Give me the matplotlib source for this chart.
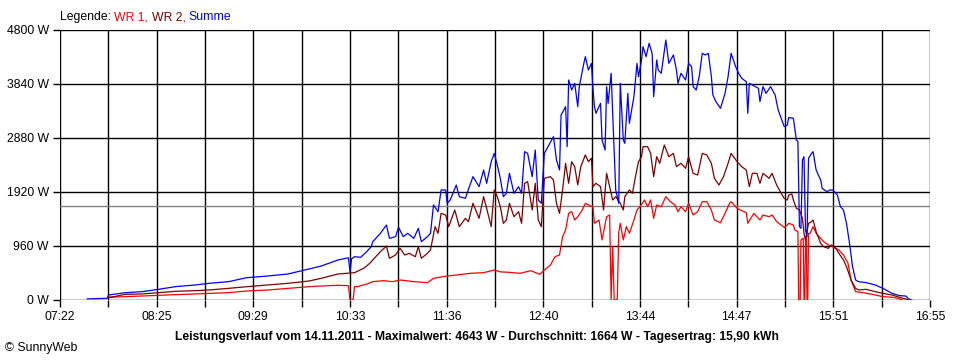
import numpy as np
import matplotlib
matplotlib.use("Agg")
import matplotlib.pyplot as plt

# time axis labels (clock times), values in W
tick_labels = ["07:22", "08:25", "09:29", "10:33", "11:36", "12:40", "13:44", "14:47", "15:51", "16:55"]
y_ticks = [0, 960, 1920, 2880, 3840, 4800]
average_w = 1664

# WR 1 (minutes after midnight, W)
wr1_t = [474, 485, 496, 507, 518, 531, 540, 553, 565, 579, 592, 606, 614, 625, 632, 633, 635, 636,
         638, 644, 648, 655, 661, 666, 675, 684, 688, 697, 703, 712, 721, 728, 732, 738, 745, 752, 758,
         761, 765, 768, 771, 773, 775, 777, 779, 781, 783, 786, 788, 791, 793, 794, 797, 799, 802, 804,
         805, 806, 807, 809, 810, 811, 813, 815, 817, 820, 822, 824, 827, 829, 831, 833, 835, 838, 841,
         844, 847, 849, 851, 854, 856, 859, 862, 865, 868, 871, 873, 877, 880, 883, 884, 888, 891, 894,
         895, 899, 903, 905, 909, 911, 914, 917, 919, 921, 922, 925, 926, 928, 928.5, 929.5, 930, 931.5,
         932, 932.5, 933, 933.5, 934, 934.5, 935, 936, 938, 940, 943, 945, 948, 951, 955, 958, 961, 963,
         966, 971, 979, 984, 991, 995, 997]
wr1_w = [50, 59, 71, 83, 95, 107, 118, 130, 160, 178, 207, 237, 249, 261, 255, 0, 0, 240,
         237, 284, 326, 344, 326, 356, 326, 308, 385, 427, 444, 474, 486, 533, 500, 492, 474, 521, 456,
         533, 622, 770, 800, 1126, 1244, 1541, 1570, 1422, 1481, 1600, 1719, 1677, 1659, 1363, 1422, 1067, 1481, 1511,
         0, 950, 0, 0, 1200, 1363, 1067, 1304, 1185, 1422, 1600, 1659, 1778, 1659, 1778, 1452, 1689, 1659, 1837,
         1748, 1689, 1570, 1659, 1570, 1719, 1511, 1570, 1748, 1748, 1600, 1422, 1374, 1541, 1719, 1748, 1630, 1588, 1553,
         1363, 1541, 1422, 1511, 1481, 1511, 1393, 1333, 1291, 1333, 1363, 1333, 1244, 1215, 0, 0, 1067, 1100,
         0, 0, 1130, 1130, 0, 0, 1185, 1185, 1304, 1185, 1096, 1037, 978, 948, 889, 800, 652, 356,
         148, 130, 89, 59, 47, 18, 0]

# WR 2
wr2_t = [474, 485, 496, 507, 518, 531, 540, 553, 565, 579, 592, 606, 614, 625, 633, 636, 642, 646,
         648, 653, 657, 659, 663, 666, 669, 672, 676, 678, 680, 684, 686, 689, 691, 693, 696, 698, 702,
         705, 709, 711, 714, 718, 721, 723, 726, 728, 730, 732, 734, 736, 738, 741, 744, 746, 748, 750,
         753, 755, 757, 759, 761, 765, 767, 769, 771, 773, 775, 777, 779, 781, 783, 785, 788, 790, 792,
         793, 795, 798, 800, 802, 804, 806, 808, 811, 813, 814, 817, 819, 821, 823, 825, 826, 829, 831,
         833, 835, 837, 840, 843, 846, 848, 851, 854, 856, 859, 862, 865, 868, 871, 873, 876, 879, 882,
         884, 888, 891, 894, 896, 898, 901, 903, 905, 909, 911, 914, 917, 919, 921, 922, 924, 925, 927,
         929, 931, 932, 933, 935, 937, 938, 940, 943, 945, 948, 950, 953, 955, 958, 960, 963, 966, 968,
         973, 979, 984, 990, 995, 999, 1001]
wr2_w = [40, 101, 107, 130, 154, 166, 178, 207, 237, 267, 296, 338, 385, 462, 480, 486, 563, 652,
         711, 859, 960, 741, 800, 918, 800, 830, 770, 948, 741, 830, 889, 1304, 1185, 1541, 1511, 1304, 1600,
         1304, 1452, 1393, 1719, 1452, 1837, 1630, 1304, 1956, 1837, 1659, 1363, 1422, 1719, 1481, 1570, 1363, 2074, 2104,
         1600, 2074, 1422, 1304, 2163, 2193, 2133, 1719, 1541, 1956, 2430, 2074, 2459, 2370, 2044, 2370, 2578, 2459, 2519,
         2015, 2074, 2015, 1600, 2252, 2015, 1778, 1837, 1719, 1600, 1837, 1956, 1896, 2193, 2459, 2548, 2726, 2726, 2607,
         2193, 2548, 2430, 2756, 2548, 2607, 2370, 2430, 2341, 2548, 2252, 2222, 2607, 2578, 2430, 2163, 2044, 2193, 2430,
         2607, 2459, 2370, 2311, 2015, 2252, 2252, 2074, 2252, 2163, 2252, 2044, 1896, 1807, 1778, 1867, 1884, 1778, 1630,
         1600, 1452, 1185, 1067, 1363, 1393, 1422, 1215, 1007, 948, 918, 978, 918, 830, 711, 593, 356, 207, 178,
         190, 148, 118, 89, 47, 18, 0]

# Summe
sum_t = [460, 468, 473, 474, 485, 496, 507, 518, 531, 540, 553, 565, 579, 592, 606, 614, 625, 630,
         632, 633, 634, 636, 640, 644, 647, 648, 653, 657, 659, 663, 665, 668, 671, 675, 678, 680, 684,
         686, 688, 691, 693, 696, 697, 699, 703, 705, 709, 711, 714, 718, 721, 723, 726, 728, 730, 732,
         734, 736, 738, 741, 744, 746, 748, 750, 753, 755, 757, 759, 761, 764, 767, 769, 771, 772, 775,
         776, 777, 779, 781, 783, 784, 787, 788, 790, 792, 793, 794, 795, 798, 799, 801, 802, 803, 805,
         806, 808, 810, 811, 813, 814, 816, 817, 820, 822, 823, 825, 826, 828, 830, 832, 833, 835, 836,
         838, 841, 843, 846, 848, 849, 851, 854, 856, 858, 859, 861, 863, 865, 867, 869, 871, 872, 874,
         877, 880, 882, 884, 887, 889, 891, 894, 895, 896, 900, 902, 903, 905, 907, 910, 913, 915, 917,
         919, 921, 922, 925, 927, 928, 929, 930, 931, 932, 933, 934, 935, 937, 938, 940, 943, 944, 947,
         949, 951, 954, 956, 958, 960, 962, 964, 966, 968, 973, 979, 984, 990, 995, 999, 1001, 1003]
sum_w = [20, 25, 30, 89, 130, 148, 190, 237, 267, 296, 326, 397, 427, 462, 551, 604, 711, 740,
         750, 500, 730, 770, 759, 859, 948, 1037, 1185, 1333, 1096, 1126, 1292, 1126, 1185, 1096, 1274, 1037, 1126,
         1185, 1689, 1570, 1956, 1956, 1719, 1778, 2044, 1837, 1807, 1967, 2193, 2015, 2311, 2074, 2459, 2607, 2400, 2163,
         1837, 1896, 2252, 1896, 2015, 1896, 2637, 2607, 2193, 2667, 1778, 1719, 2607, 2756, 2904, 2489, 2311, 3289, 3437,
         2726, 3911, 3733, 3852, 3437, 3793, 4207, 4326, 4089, 4207, 3763, 3437, 3319, 3496, 2844, 2667, 3793, 3496, 4030,
         3319, 1956, 1719, 3852, 2844, 2785, 3674, 3141, 3615, 4207, 3970, 4267, 4504, 4326, 4563, 4385, 3615, 4267, 4089,
         4030, 4622, 4207, 4356, 4089, 3852, 4030, 3911, 4207, 4148, 3793, 3733, 3970, 4385, 4356, 4385, 3970, 3644, 3526,
         3407, 3674, 3970, 4385, 4148, 4030, 3941, 3881, 3319, 3852, 3793, 3763, 3526, 3793, 3674, 3793, 3644, 3378, 3230,
         3081, 3111, 3244, 3230, 2844, 2815, 1304, 1274, 2489, 2548, 1244, 1126, 2519, 2607, 2637, 2311, 2133, 1985, 1926,
         1956, 1956, 1867, 1659, 1600, 1363, 1007, 593, 356, 326, 308, 267, 207, 118, 77, 71, 18, 0]


def to_min(s):
    h, m = s.split(":")
    return int(h) * 60 + int(m)


t_start = to_min(tick_labels[0])
t_end = to_min(tick_labels[-1])

plt.rcParams["font.family"] = ["Liberation Sans", "DejaVu Sans"]

fig = plt.figure(figsize=(9.6, 3.6), dpi=100)
ax = fig.add_axes([0.0625, 1 - 300 / 360, 870 / 960, 270 / 360])

# grid
xgrid = np.linspace(t_start, t_end, 19)
for x in xgrid:
    ax.axvline(x, color="black", lw=1.0, zorder=1)
for y in y_ticks:
    ax.axhline(y, color="black", lw=1.0, zorder=1)
ax.axhline(average_w, color="#808080", lw=1.0, zorder=1)

ax.plot(wr1_t, wr1_w, color="#ff0000", lw=0.9, zorder=3)
ax.plot(wr2_t, wr2_w, color="#800000", lw=0.9, zorder=3)
ax.plot(sum_t, sum_w, color="#0000ff", lw=0.9, zorder=4)

ax.set_xlim(t_start, t_end)
ax.set_ylim(0, y_ticks[-1])
ax.set_xticks(xgrid)
ax.set_xticklabels([tick_labels[i // 2] if i % 2 == 0 else "" for i in range(len(xgrid))])
ax.set_yticks(y_ticks)
ax.set_yticklabels([f"{v} W" for v in y_ticks])
ax.tick_params(direction="out", length=5, width=1.0, color="black", labelsize=8.8)
ax.tick_params(axis="y", pad=3)
ax.tick_params(axis="x", pad=3)
for sp in ax.spines.values():
    sp.set_visible(False)

# legend line on top
fig.canvas.draw()
r = fig.canvas.get_renderer()
x_px = 60
parts = [("Legende: ", "black"), ("WR 1, ", "#ff0000"), ("WR 2, ", "#800000"), ("Summe", "#0000ff")]
for txt, col in parts:
    t = fig.text(x_px / 960, 1 - 17 / 360, txt, color=col, fontsize=8.8, va="center", ha="left")
    bb = t.get_window_extent(renderer=r)
    x_px += bb.width

fig.text(477 / 960, 1 - 337 / 360,
         "Leistungsverlauf vom 14.11.2011 - Maximalwert: 4643 W - Durchschnitt: 1664 W - Tagesertrag: 15,90 kWh",
         fontsize=8.75, fontweight="bold", ha="center", va="center")
fig.text(5 / 960, 1 - 348 / 360, "\u00a9 SunnyWeb", fontsize=8.8, ha="left", va="center")

fig.savefig("out.png", dpi=100)
